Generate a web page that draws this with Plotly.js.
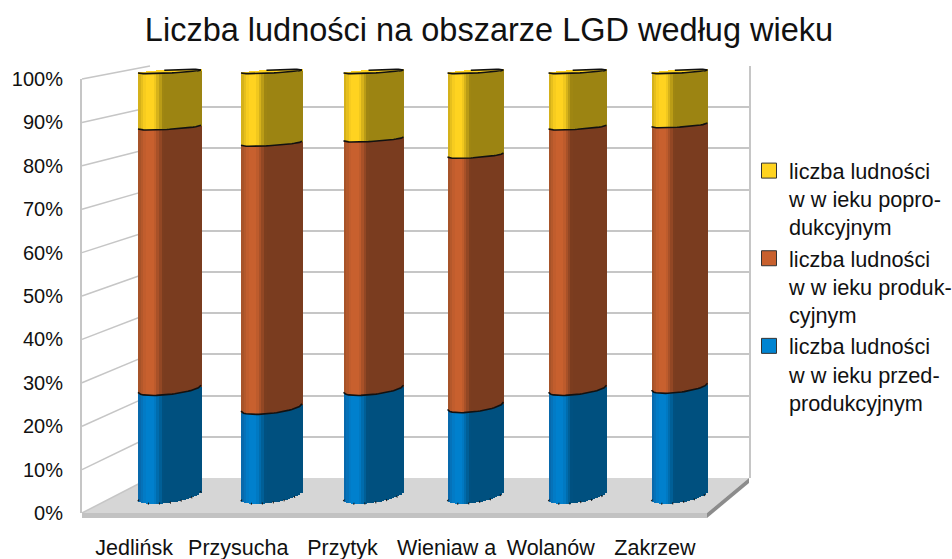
<!DOCTYPE html>
<html><head><meta charset="utf-8">
<script src="https://cdn.plot.ly/plotly-3.0.1.min.js"></script>
<style>html,body{margin:0;padding:0;background:#fff}#c{width:952px;height:559px}</style>
</head><body><div id="c"></div>
<script>
// ---- data (percent shares) ----
const categories = ['Jedlińsk','Przysucha','Przytyk','Wieniaw a','Wolanów','Zakrzew'];
const przed = [25.2,20.8,25.2,21.2,25.2,25.7];
const prod  = [61.7,62.3,58.9,59.1,61.7,61.7];
const popro = [13.1,16.9,15.9,19.7,13.1,12.6];
const legendNames = [
 'liczba ludności<br>w w ieku popro-<br>dukcyjnym',
 'liczba ludności<br>w w ieku produk-<br>cyjnym',
 'liczba ludności<br>w w ieku przed-<br>produkcyjnym'];
const yTicks = [0,10,20,30,40,50,60,70,80,90,100];
const yTickText = ['0%','10%','20%','30%','40%','50%','60%','70%','80%','90%','100%'];

// ---- style / layout constants ----
const W=952,H=559;
const FONT='"Liberation Sans", Arial, sans-serif';
const px=x=>x/W, py=y=>1-y/H;
const front={l:82,r:707,b:513,t:79};
const wall={l:150,r:749,b:478,t:66};
const cyl={l:118.5,r:730.5,v0:500,pxPerPct:4.27,low:-3,high:103};
const cylPxWidth=[63,61,60,56,58,56];
const STRIPS=24;
const pal={
  yellow:{hi:[255,211,32],edge:[205,170,25],dk:[156,132,18]},
  brown:{hi:[200,96,46],edge:[160,80,40],dk:[122,60,31]},
  blue:{hi:[0,128,205],edge:[10,100,165],dk:[0,80,127]}
};
const unitX=(cyl.r-cyl.l)/6;
function mix(a,b,t){return a.map((v,i)=>Math.round(v+(b[i]-v)*t));}
function shade(p,u){
  let c;
  if(u<-0.75) c=mix(p.edge,p.hi,(u+1)/0.25);
  else if(u<-0.5) c=p.hi;
  else if(u<-0.2) c=mix(p.hi,p.dk,(u+0.5)/0.3);
  else c=p.dk;
  return 'rgb('+c.join(',')+')';
}
// upward pixel displacement of a level on the cylinder, as data units
function lift(v,u){
  const h=v/100, tilt=8.5*(1-h)+3*h, depth=7*(1-h)+1.5*h;
  return (tilt*(u+1)/2 - depth*Math.sqrt(Math.max(0,1-u*u)))/cyl.pxPerPct;
}
function stripTrace(lower,upper,p){
  const xs=[],base=[],ys=[],ws=[],cols=[];
  categories.forEach((_,i)=>{
    const wpx=cylPxWidth[i];
    for(let k=0;k<STRIPS;k++){
      const u=-1+(k+0.5)*2/STRIPS;
      const lo=lower[i]+lift(lower[i],u), hi=upper[i]+lift(upper[i],u);
      xs.push(i+u*wpx/2/unitX); base.push(lo); ys.push(hi-lo);
      ws.push((wpx/STRIPS+0.8)/unitX); cols.push(shade(p,u));
    }
  });
  return {type:'bar',xaxis:'x3',yaxis:'y3',x:xs,y:ys,base:base,width:ws,
    marker:{color:cols,line:{width:0}},showlegend:false,hoverinfo:'skip',cliponaxis:false};
}
function edgeTrace(level,opts){
  const xs=[],ys=[];
  categories.forEach((_,i)=>{
    const wpx=cylPxWidth[i], v=level[i];
    for(let k=0;k<=STRIPS;k++){
      const u=-1+k*2/STRIPS;
      xs.push(i+u*wpx/2/unitX); ys.push(v+lift(v,u));
    }
    xs.push(null); ys.push(null);
  });
  return {type:'scatter',mode:'lines',xaxis:'x3',yaxis:'y3',x:xs,y:ys,
    line:Object.assign({color:'#111',width:1.6},opts||{}),showlegend:false,hoverinfo:'skip',cliponaxis:false};
}
const c1=przed, c2=przed.map((v,i)=>v+prod[i]), c3=c2.map((v,i)=>v+popro[i]);
const zero=przed.map(()=>0);

// top cap of each cylinder
function capTrace(){
  const xs=[],base=[],ys=[],ws=[];
  categories.forEach((_,i)=>{
    const wpx=cylPxWidth[i], v=c3[i];
    for(let k=0;k<STRIPS;k++){
      const u=-1+(k+0.5)*2/STRIPS, front=lift(v,u), back=front+2*1.5*Math.sqrt(1-u*u)/cyl.pxPerPct;
      xs.push(i+u*wpx/2/unitX); base.push(v+front); ys.push(back-front);
      ws.push((wpx/STRIPS+0.8)/unitX);
    }
  });
  return {type:'bar',xaxis:'x3',yaxis:'y3',x:xs,y:ys,base:base,width:ws,
    marker:{color:'#ffd320',line:{width:0}},showlegend:false,hoverinfo:'skip',cliponaxis:false};
}
function capBack(){
  const xs=[],ys=[];
  categories.forEach((_,i)=>{
    const wpx=cylPxWidth[i], v=c3[i];
    for(let k=STRIPS/2-2;k<=STRIPS;k++){
      const u=-1+k*2/STRIPS;
      xs.push(i+u*wpx/2/unitX); ys.push(v+lift(v,u)+2*1.5*Math.sqrt(1-u*u)/cyl.pxPerPct);
    }
    xs.push(null); ys.push(null);
  });
  return {type:'scatter',mode:'lines',xaxis:'x3',yaxis:'y3',x:xs,y:ys,
    line:{color:'#111',width:1.6},showlegend:false,hoverinfo:'skip',cliponaxis:false};
}
const legendColors=['#ffd320','#c8602e','#0084d1'];
const legendTraces=legendNames.map((n,i)=>({type:'scatter',mode:'markers',xaxis:'x3',yaxis:'y3',
  x:[null],y:[null],name:n,marker:{symbol:'square',size:15,color:legendColors[i],line:{color:'#333',width:1}}}));

const traces=[
 {type:'scatter',mode:'markers',x:[categories[0]],y:[null],xaxis:'x',yaxis:'y',showlegend:false,hoverinfo:'skip'},
 {type:'scatter',mode:'markers',x:[null],y:[null],xaxis:'x2',yaxis:'y2',showlegend:false,hoverinfo:'skip'},
 stripTrace(zero,c1,pal.blue),
 stripTrace(c1,c2,pal.brown),
 stripTrace(c2,c3,pal.yellow),
 capTrace(),
 edgeTrace(c1), edgeTrace(c2), edgeTrace(c3), capBack(),
 edgeTrace(zero,{dash:'1px 10px',width:2}),
 ...legendTraces
];

const gray='#c6c6c6';
const shapes=[
 {type:'path',path:`M${px(front.l)},${py(front.b)}L${px(wall.l)},${py(wall.b)}L${px(wall.r)},${py(wall.b)}L${px(front.r)},${py(front.b)}Z`,
  xref:'paper',yref:'paper',fillcolor:'#d6d6d6',line:{width:0},layer:'below'},
 {type:'path',path:`M${px(front.l)},${py(front.b)}L${px(front.r)},${py(front.b)}L${px(front.r)},${py(front.b+5)}L${px(front.l)},${py(front.b+5)}Z`,
  xref:'paper',yref:'paper',fillcolor:'#c2c2c2',line:{width:0},layer:'below'},
 {type:'path',path:`M${px(front.r)},${py(front.b)}L${px(wall.r)},${py(wall.b)}L${px(wall.r)},${py(wall.b+5)}L${px(front.r)},${py(front.b+5)}Z`,
  xref:'paper',yref:'paper',fillcolor:'#8c8c8c',line:{width:0},layer:'below'}
];
yTicks.forEach(t=>{
  const f=t/100;
  shapes.push({type:'line',xref:'paper',yref:'paper',layer:'below',
    x0:px(front.l),x1:px(wall.l),
    y0:py(front.b+(front.t-front.b)*f),y1:py(wall.b+(wall.t-wall.b)*f),
    line:{color:gray,width:1.5}});
});

const layout={
 width:W,height:H,margin:{l:0,r:0,t:0,b:0,autoexpand:false},
 paper_bgcolor:'#fff',plot_bgcolor:'rgba(0,0,0,0)',
 font:{family:FONT,color:'#111',size:20},
 barmode:'overlay',bargap:0,
 title:{text:'Liczba ludności na obszarze LGD według wieku',x:489/W,xanchor:'center',xref:'paper',
   y:py(30),yanchor:'middle',yref:'paper',font:{family:FONT,size:32.5,color:'#111'}},
 showlegend:true,
 legend:{x:px(749),xanchor:'left',y:py(150),yanchor:'top',traceorder:'normal',valign:'top',
   font:{family:FONT,size:21.7,color:'#111'},bgcolor:'rgba(0,0,0,0)',borderwidth:0,tracegroupgap:1,itemclick:false,itemdoubleclick:false},
 xaxis:{domain:[px(front.l),px(front.r)],type:'category',categoryorder:'array',categoryarray:categories,
   tickvals:categories,ticktext:categories,range:[-0.5,5.5],anchor:'y',showgrid:false,zeroline:false,showline:false,
   ticks:'outside',ticklen:15,tickcolor:'rgba(0,0,0,0)',tickfont:{family:FONT,size:21.5,color:'#111'},fixedrange:true},
 yaxis:{domain:[py(front.b),py(front.t)],range:[0,100],anchor:'x',tickmode:'array',tickvals:yTicks,ticktext:yTickText,
   showgrid:false,zeroline:false,showline:true,linecolor:gray,linewidth:2,
   ticks:'outside',ticklen:13,tickcolor:'rgba(0,0,0,0)',tickfont:{family:FONT,size:20,color:'#111'},fixedrange:true},
 xaxis2:{domain:[px(wall.l),px(wall.r)],range:[0,1],anchor:'y2',showgrid:false,zeroline:false,showticklabels:false,ticks:'',
   showline:false,fixedrange:true},
 yaxis2:{domain:[py(wall.b),py(wall.t)],range:[0,100],anchor:'x2',side:'right',tickvals:yTicks,showgrid:true,gridcolor:gray,gridwidth:1.5,
   zeroline:false,showticklabels:false,ticks:'',showline:true,linecolor:gray,linewidth:1.5,fixedrange:true},
 xaxis3:{domain:[px(cyl.l),px(cyl.r)],range:[-0.5,5.5],anchor:'y3',visible:false,fixedrange:true},
 yaxis3:{domain:[py(cyl.v0-cyl.low*cyl.pxPerPct),py(cyl.v0-cyl.high*cyl.pxPerPct)],range:[cyl.low,cyl.high],anchor:'x3',visible:false,fixedrange:true},
 shapes:shapes
};
Plotly.newPlot('c',traces,layout,{displayModeBar:false,responsive:false});
</script></body></html>
